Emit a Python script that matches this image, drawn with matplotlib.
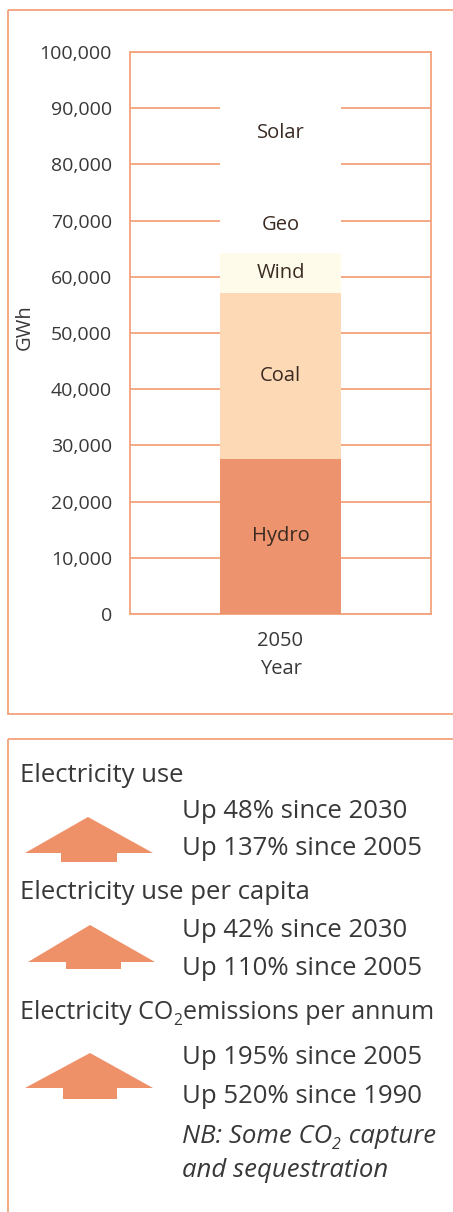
import matplotlib

matplotlib.use("Agg")

import matplotlib.pyplot as plt
from matplotlib.patches import Polygon, Rectangle
import numpy as np

plt.rcParams.update({"font.family": ["Open Sans", "DejaVu Sans"]})

# data
year_labels = ["2050"]
sources = ["Hydro", "Coal", "Wind", "Geo", "Solar"]
values_gwh = [27600, 29500, 7100, 10000, 22600]
source_colors = ["#ED946E", "#FDD9B6", "#FEFBEA", "#FFFFFF", "#FFFFFF"]
y_ticks = np.arange(0, 100001, 10000)

# text split around the CO2 subscript: (before, subscript, after)
headers = [
    ("Electricity use", "", ""),
    ("Electricity use per capita", "", ""),
    ("Electricity CO", "2", "emissions per annum"),
]
changes = [
    ["Up 48% since 2030", "Up 137% since 2005"],
    ["Up 42% since 2030", "Up 110% since 2005"],
    ["Up 195% since 2005", "Up 520% since 1990"],
]
note_lines = [("NB: Some CO", "2", " capture"), ("and sequestration", "", "")]

ORANGE = "#F2A37C"
ARROW = "#EE9068"
TEXT = "#383838"

W, H = 453, 1212
fig = plt.figure(figsize=(W / 100, H / 100), dpi=100)

# overlay in pixel coordinates for frames and the summary panel
ov = fig.add_axes([0, 0, 1, 1], zorder=0)
ov.set_xlim(0, W)
ov.set_ylim(H, 0)
ov.axis("off")
ov.add_patch(Rectangle((8, 10), 460, 704, fill=False, ec=ORANGE, lw=1.3))
ov.add_patch(Rectangle((8, 739), 460, 500, fill=False, ec=ORANGE, lw=1.3))

# chart
ax = fig.add_axes([130 / W, 1 - 614 / H, 301 / W, 562 / H], zorder=1)
ax.patch.set_alpha(0)
x = np.arange(len(year_labels))
bottom = np.zeros(len(year_labels))
for name, val, col in zip(sources, values_gwh, source_colors):
    vals = np.array([val], dtype=float)
    ax.bar(x, vals, 0.4, bottom=bottom, color=col, zorder=3)
    for xi, b, v in zip(x, bottom, vals):
        ax.text(xi, b + v / 2, name, ha="center", va="center", fontsize=14.5, color="#3a2a22", zorder=4)
    bottom += vals

ax.set_xlim(-0.5, 0.5)
ax.set_ylim(0, 100000)
ax.set_yticks(y_ticks)
ax.set_yticklabels([f"{v:,}" for v in y_ticks])
ax.set_xticks(x)
ax.set_xticklabels(year_labels)
ax.tick_params(length=0, labelsize=14, labelcolor=TEXT, pad=13)
ax.tick_params(axis="x", labelsize=14.5, pad=12)
ax.grid(axis="y", color=ORANGE, lw=1.3, zorder=1)
for sp in ax.spines.values():
    sp.set_color(ORANGE)
    sp.set_linewidth(1.3)
ax.set_xlabel("Year", fontsize=14.5, color=TEXT, labelpad=6)
ax.set_ylabel("GWh", fontsize=14.5, color=TEXT)
ax.yaxis.set_label_coords(-0.315, 0.51)

renderer = fig.canvas.get_renderer()


def sub_text(x0, y0, parts, size, **kw):
    before, sub, after = parts
    t = ov.text(x0, y0, before, fontsize=size, color=TEXT, va="baseline", **kw)
    if not sub:
        return
    xe = t.get_window_extent(renderer).x1
    s = ov.text(xe, y0 + 6, sub, fontsize=size * 0.62, color=TEXT, va="baseline", **kw)
    xe = s.get_window_extent(renderer).x1 + 1
    ov.text(xe, y0, after, fontsize=size, color=TEXT, va="baseline", **kw)


# summary panel
header_y = [782, 899, 1019]
header_size = [18.5, 18.5, 18.0]
change_y = [[818, 855], [937, 975], [1064, 1103]]
arrows = [
    (88, 817, 853, 25, 153, 61, 117, 862),
    (90, 925, 962, 28, 155, 66, 121, 969),
    (90, 1053, 1088, 25, 153, 63, 117, 1099),
]
for head, hy, hs, lines, ly, arr in zip(headers, header_y, header_size, changes, change_y, arrows):
    sub_text(20, hy, head, hs)
    for s, yy in zip(lines, ly):
        ov.text(182, yy, s, fontsize=18.5, color=TEXT, va="baseline")
    ax_, ay, by, bl, br, sl, sr, sb = arr
    ov.add_patch(Polygon([(ax_, ay), (br, by), (sr, by), (sr, sb), (sl, sb), (sl, by), (bl, by)],
                         closed=True, color=ARROW, lw=0))

for parts, yy in zip(note_lines, [1143, 1177]):
    sub_text(182, yy, parts, 18.5, style="italic")

fig.savefig("out.png", dpi=100)
